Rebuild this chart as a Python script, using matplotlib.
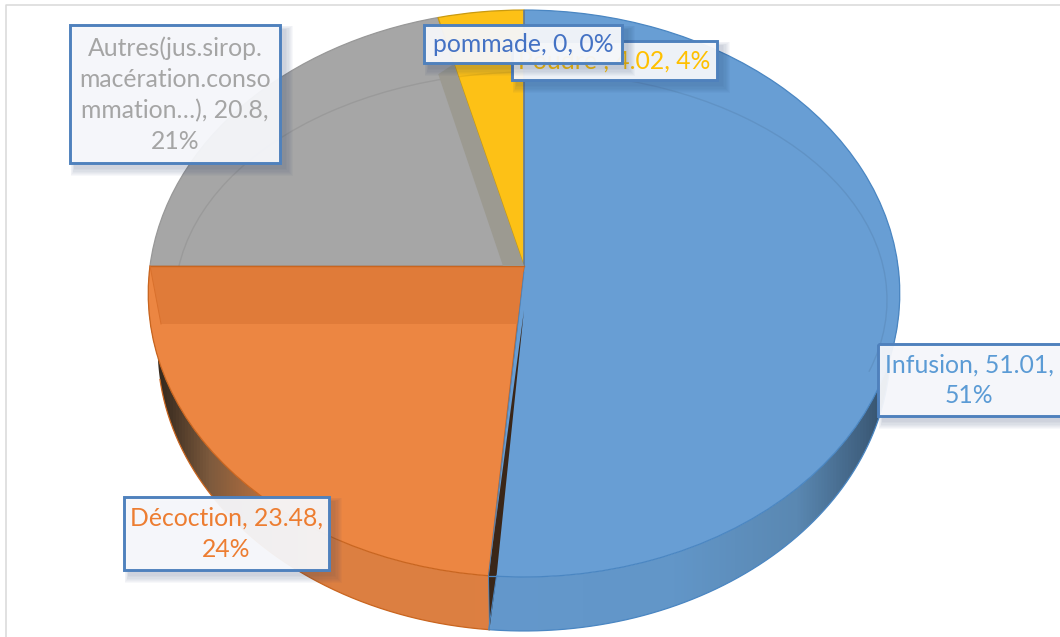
import numpy as np
import matplotlib
matplotlib.use("Agg")
import matplotlib.pyplot as plt
from matplotlib.colors import LinearSegmentedColormap
from matplotlib.patches import Rectangle, Polygon, Arc
from matplotlib.transforms import Transform

# ---- data ----
categories = ["Infusion", "Décoction", "Autres(jus.sirop.\nmacération.conso\nmmation…)", "Poudre ", "pommade"]
values = [51.01, 23.48, 20.8, 4.02, 0]
percent_labels = ["51%", "24%", "21%", "4%", "0%"]
face_colors = ["#689ED4", "#EC8642", "#A6A6A6", "#FDC116", "#4472C4"]
edge_colors = ["#4A86C2", "#C9651F", "#989898", "#C99A10", "#4472C4"]
text_colors = ["#5B9BD5", "#ED7D31", "#A5A5A5", "#FFC000", "#4472C4"]
label_sep = [",\n", ",\n", ",\n", ", ", ", "]

W, H = 1060, 637
CX, CY = 524.0, 266.0      # apex in figure pixels
A, B, K = 374.0, 280.8, 0.097   # perspective of the disc
DEPTH, SHRINK = 54.0, 0.975


class Tilt(Transform):
    input_dims = output_dims = 2
    is_separable = False
    has_inverse = False

    def transform_non_affine(self, xy):
        xy = np.asarray(xy, float)
        w = 1 + K * xy[:, 1]
        return np.column_stack([CX + A * xy[:, 0] / w, CY - B * xy[:, 1] / w])


tilt = Tilt()


def rim(cw_deg, r=1.0):
    t = np.radians(np.atleast_1d(cw_deg))
    return tilt.transform_non_affine(np.column_stack([r * np.sin(t), r * np.cos(t)]))


def lower(p):
    return np.column_stack([CX + SHRINK * (p[:, 0] - CX), p[:, 1] + DEPTH])


fig = plt.figure(figsize=(W / 100, H / 100), dpi=100)
ax = fig.add_axes([0, 0, 1, 1])

plt.rcParams["font.family"] = ["Lato", "DejaVu Sans"]

# boundaries, clockwise degrees from the top
shares = np.array(values) / np.sum(values)
bounds = np.concatenate([[0], np.cumsum(shares) * 360])

# ---- side wall ----
x_grad = np.linspace(0, 1, 512)[None, :]
extent = (140, 905, 660, 260)
side_cmaps = {
    0: LinearSegmentedColormap.from_list("b", [(0, "#6498CC"), (0.46, "#6498CC"), (0.7, "#6296C8"),
                                              (0.86, "#5A88B2"), (0.95, "#3F5F7E"), (1, "#2C4459")]),
    1: LinearSegmentedColormap.from_list("o", [(0, "#2E2418"), (0.03, "#3A2C20"), (0.09, "#7D5A3D"),
                                              (0.16, "#B56F3F"), (0.25, "#DC7F42"), (1, "#E0803F")]),
}
for i, (a, b) in enumerate([(bounds[0] + 60, bounds[1]), (bounds[1], bounds[2])]):
    th = np.linspace(a, b, 200)
    top = rim(th)
    outline = np.vstack([top, lower(top)[::-1]])
    im = ax.imshow(x_grad, cmap=side_cmaps[i], extent=extent, aspect="auto", zorder=1)
    poly = Polygon(outline, closed=True, transform=ax.transData, fc="none", ec="none")
    ax.add_patch(poly)
    im.set_clip_path(poly)

# ---- top face ----
wedges, _ = ax.pie(values, colors=face_colors, startangle=90, counterclock=False,
                   wedgeprops={"transform": tilt + ax.transData})
for w, ec in zip(wedges, edge_colors):
    w.set_edgecolor(ec)
    w.set_linewidth(0.9)
    w.set_zorder(2)
ax.set_aspect("auto")
ax.set_xlim(0, W)
ax.set_ylim(H, 0)
ax.axis("off")

# outline of the lower edge
for i, (a, b) in enumerate([(bounds[0] + 100, bounds[1]), (bounds[1], bounds[2] - 12)]):
    low = lower(rim(np.linspace(a, b, 200)))
    ax.plot(low[:, 0], low[:, 1], color=edge_colors[i], lw=0.9, zorder=2)

# ---- bevel ring ----
ax.add_patch(Arc((531, 300), 712, 456, theta1=185, theta2=372, color="#000000",
                 alpha=0.07, lw=1.0, zorder=3))

# ---- darker band on the Décoction slice ----
left = rim(bounds[2])[0]
band_y = CY + 58
sp = rim(bounds[1])[0]
band_right = CX + (sp[0] - CX) * (band_y - CY) / (sp[1] - CY)
ax.add_patch(Polygon([left, (left[0] + 11, band_y), (band_right, band_y), (CX, CY)],
                     closed=True, fc="#E07B39", ec="none", zorder=3))
ax.plot([left[0], CX], [CY, CY], color="#C9651F", lw=1.0, zorder=3)
ax.plot([left[0], left[0] + 11], [CY, band_y], color="#D9702C", lw=0.7, zorder=3)

# ---- inner wall of the Autres slice ----
g_top = rim(bounds[3], 0.80)[0]
g_out = rim(bounds[3], 0.76)[0]
ax.add_patch(Polygon([g_top, (CX, CY), (CX - 21, CY), (g_out[0] - 19, g_out[1] + 1)],
                     closed=True, fc="#9C9A91", ec="none", zorder=3))

# ---- dark sliver between Infusion and Décoction ----
s_rim = rim(bounds[1])[0]
s_low = lower(rim(bounds[1]))[0]
ax.add_patch(Polygon([(CX, CY + 44), s_rim, s_low, (s_rim[0] + 8, s_rim[1])],
                     closed=True, fc="#3A2618", ec="none", zorder=3))
ax.plot([CX, s_rim[0], s_low[0]], [CY + 6, s_rim[1], s_low[1]], color="#4A86C2", lw=0.6, zorder=3)
ax.plot([s_rim[0] + 8, s_rim[0]], [s_rim[1], s_low[1]], color="#4A86C2", lw=0.7, zorder=3)
ax.plot([s_rim[0], s_rim[0] + 8], [s_rim[1], s_rim[1]], color="#4A86C2", lw=0.9, zorder=3)

# ---- chart-area frame ----
ax.plot([6, 6, W], [H, 4.5, 4.5], color="#D9D9D9", lw=1.1, zorder=0.5)

# ---- data labels (box: x0, y0, x1, y1 in pixels) ----
boxes = [(878, 344, 1076, 416), (124, 497, 329, 570), (70, 25, 280, 163),
         (512, 41, 717, 80), (424, 25, 622, 63)]
text_cx = [969, None, None, None, None]
z_order = [10, 11, 12, 13, 15]
for i, (name, v, pct) in enumerate(zip(categories, values, percent_labels)):
    x0, y0, x1, y1 = boxes[i]
    z = z_order[i]
    for k in range(1, 8):
        ax.add_patch(Rectangle((x0 + 5 - k * 0.6, y0 + 5 - k * 0.6),
                               x1 - x0 + 2 * k * 0.9, y1 - y0 + 2 * k * 0.9,
                               fc="#1F3864", ec="none", alpha=0.03, zorder=z, clip_on=False))
    ax.add_patch(Rectangle((x0, y0), x1 - x0, y1 - y0, fc="#F8F9FC", alpha=0.94, ec="none", zorder=z + 0.1))
    ax.add_patch(Rectangle((x0, y0), x1 - x0, y1 - y0, fc="none", ec="#4F81BD", lw=2.1, zorder=z + 0.2))
    tx = text_cx[i] if text_cx[i] is not None else (x0 + x1) / 2
    s = f"{name}, {v:g}{label_sep[i]}{pct}" if label_sep[i] != ",\n" else f"{name}, {v:g},\n{pct}"
    ax.text(tx, (y0 + y1) / 2 + 0.5, s, color=text_colors[i], ha="center", va="center",
            fontsize=17.8, family=["Lato", "DejaVu Sans"], linespacing=1.42, zorder=z + 0.3)

fig.savefig("out.png", dpi=100)
